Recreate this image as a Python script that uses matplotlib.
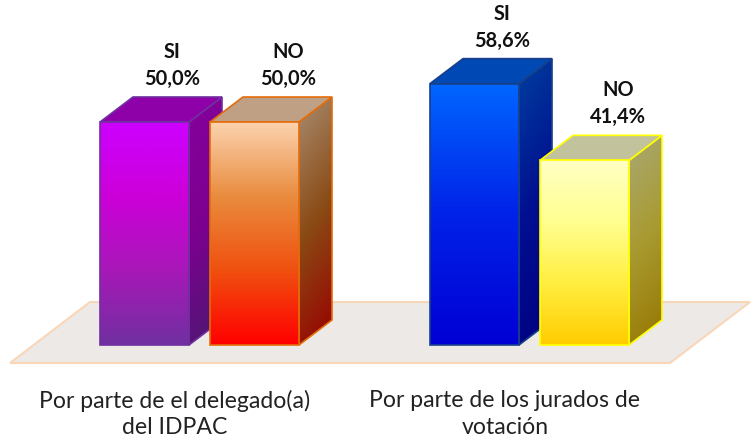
import numpy as np
import matplotlib
matplotlib.use("Agg")
import matplotlib.pyplot as plt
from matplotlib.patches import Polygon
from matplotlib.colors import LinearSegmentedColormap

plt.rcParams["font.family"] = ["Lato", "DejaVu Sans"]

groups = ["Por parte de el delegado(a)\ndel IDPAC", "Por parte de los jurados de\nvotación"]
answers = ["SI", "NO"]
si_vals = [50.0, 58.6]
no_vals = [50.0, 41.4]

# front stops, side stops, top face, edge
si_cols = [
    (["#cc00ff", "#cc00d8", "#a818b8", "#7030a0"], ["#85009c", "#7c0090", "#4a1a6e"], "#8e00a8", "#7030a0"),
    (["#0066ff", "#0022e8", "#0000d4"], ["#003f9e", "#000f90", "#000080"], "#0049b5", "#17408b"),
]
no_cols = [
    (["#fcd3b0", "#e98c3e", "#f0500f", "#ff0000"], ["#a88c70", "#8a4a14", "#990000"], "#bfa084", "#e46c0a"),
    (["#ffffc4", "#ffff90", "#ffee40", "#ffcc00"], ["#a9a974", "#a89a30", "#967600"], "#c2c29c", "#ffff00"),
]

# scales: 330 px between groups, 4.46 px per percent
PX_X = 330.0
PX_Y = 4.46
bar_w = 89 / PX_X
no_off = 110 / PX_X
dx = 33 / PX_X
dy = 25 / PX_Y


def grad_poly(ax, pts, stops, edge, diag=False, z=3):
    pts = np.array(pts)
    cmap = LinearSegmentedColormap.from_list("g", stops)
    if diag:
        # side faces shade from upper left to lower right
        yy, xx = np.mgrid[0:1:60j, 0:1:20j]
        g = yy * 0.85 + xx * 0.15
    else:
        g = np.linspace(0, 1, 200).reshape(-1, 1)
    ext = (pts[:, 0].min(), pts[:, 0].max(), pts[:, 1].min(), pts[:, 1].max())
    im = ax.imshow(g, cmap=cmap, extent=ext, origin="upper", aspect="auto", zorder=z, vmin=0, vmax=1)
    p = Polygon(pts, closed=True, fc="none", ec=edge, lw=1.2, zorder=z + 0.1, joinstyle="miter")
    ax.add_patch(p)
    im.set_clip_path(p)


def bar3d(ax, x, v, cols, z):
    front, side, top, edge = cols
    grad_poly(ax, [(x + bar_w, 0), (x + bar_w + dx, dy), (x + bar_w + dx, v + dy), (x + bar_w, v)],
              side, edge, diag=True, z=z)
    ax.add_patch(Polygon([(x, v), (x + dx, v + dy), (x + bar_w + dx, v + dy), (x + bar_w, v)],
                         closed=True, fc=top, ec=edge, lw=1.2, zorder=z + 0.2))
    grad_poly(ax, [(x, 0), (x + bar_w, 0), (x + bar_w, v), (x, v)], front, edge, z=z + 0.3)


fig = plt.figure(figsize=(7.55, 4.40), dpi=100)
ax = fig.add_axes([0, 0, 1, 1])
ax.axis("off")

# floor
floor_l, floor_r = -90 / PX_X, 570 / PX_X
floor_y0, floor_y1 = -18 / PX_Y, 43 / PX_Y
floor_skew = 80 / PX_X
ax.add_patch(Polygon([(floor_l, floor_y0), (floor_r, floor_y0), (floor_r + floor_skew, floor_y1),
                      (floor_l + floor_skew, floor_y1)],
                     closed=True, fc="#ece9e6", ec="#fad6b8", lw=1.5, zorder=1))

for i, name in enumerate(groups):
    bar3d(ax, i, si_vals[i], si_cols[i], 3)
    bar3d(ax, i + no_off, no_vals[i], no_cols[i], 5)

    ax.text(i + 72 / PX_X, si_vals[i] + 43 / PX_Y, f"{si_vals[i]:.1f}%".replace(".", ","),
            ha="center", va="center", fontsize=14.4, fontweight="bold", color="#111111", zorder=9)
    ax.text(i + 72 / PX_X, si_vals[i] + 70 / PX_Y, answers[0],
            ha="center", va="center", fontsize=14.4, fontweight="bold", color="#111111", zorder=9)
    ax.text(i + no_off + 78 / PX_X, no_vals[i] + 43 / PX_Y, f"{no_vals[i]:.1f}%".replace(".", ","),
            ha="center", va="center", fontsize=14.4, fontweight="bold", color="#111111", zorder=9)
    ax.text(i + no_off + 78 / PX_X, no_vals[i] + 70 / PX_Y, answers[1],
            ha="center", va="center", fontsize=14.4, fontweight="bold", color="#111111", zorder=9)

    ax.text(i + 75 / PX_X, -69 / PX_Y, name, ha="center", va="center", fontsize=16.6, color="#222222",
            linespacing=1.32, zorder=9)

ax.set_xlim(-100 / PX_X, 655 / PX_X)
ax.set_ylim(-95 / PX_Y, 345 / PX_Y)

fig.savefig("out.png", dpi=100)
